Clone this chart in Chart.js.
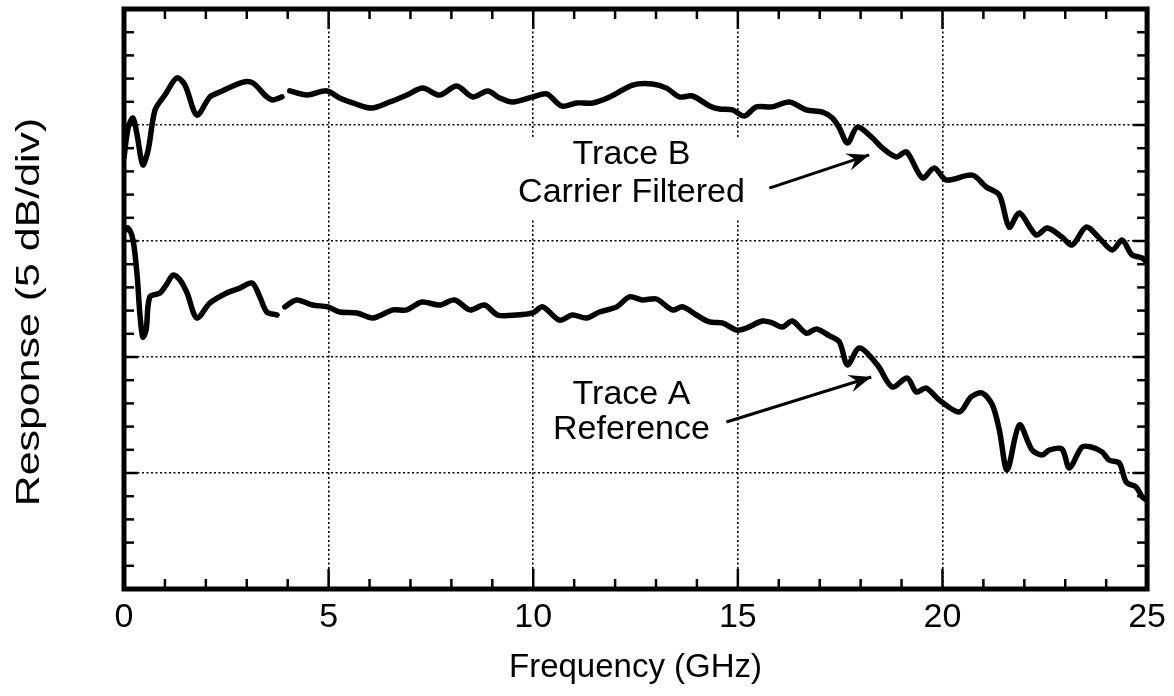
<!DOCTYPE html>
<html><head><meta charset="utf-8">
<script src="https://cdn.jsdelivr.net/npm/chart.js@4/dist/chart.umd.min.js"></script>
<style>html,body{margin:0;padding:0;background:#fff}#wrap{width:1174px;height:696px}</style>
</head><body><div id="wrap"><canvas id="c" width="1174" height="696"></canvas></div>
<script>
// Trace B (Carrier Filtered) — frequency in GHz, response in dB (5 dB/div)
const freqB = [0.0,0.10,0.22,0.32,0.46,0.59,0.76,1.00,1.29,1.49,1.78,2.10,2.34,2.91,3.15,3.49,3.64,3.86,3.95,
  4.05,4.47,4.96,5.27,5.59,6.05,6.49,6.91,7.30,7.71,8.13,8.52,8.89,9.18,9.50,9.99,10.33,10.69,11.06,11.45,11.87,
  12.43,12.91,13.26,13.57,13.89,14.31,14.55,14.87,15.16,15.45,15.84,16.26,16.67,17.07,17.31,17.48,17.68,17.92,
  18.29,18.53,18.87,19.12,19.51,19.80,20.09,20.73,21.07,21.39,21.63,21.88,22.29,22.56,22.92,23.17,23.51,23.83,
  24.15,24.39,24.63,24.88,24.98];
const respB = [-6.42,-5.13,-4.70,-5.43,-6.72,-6.08,-4.35,-3.71,-2.97,-3.28,-4.57,-3.79,-3.58,-3.15,-3.19,-3.79,-3.92,-3.79,null,
  -3.53,-3.71,-3.53,-3.84,-4.05,-4.27,-4.01,-3.71,-3.41,-3.71,-3.32,-3.79,-3.53,-3.84,-4.01,-3.79,-3.66,-4.18,-4.05,-4.05,-3.79,
  -3.28,-3.23,-3.41,-3.79,-3.75,-4.18,-4.31,-4.35,-4.61,-4.22,-4.22,-4.01,-4.35,-4.44,-4.70,-5.13,-5.78,-5.09,
  -5.56,-5.99,-6.38,-6.16,-7.28,-6.85,-7.37,-7.16,-7.67,-8.02,-9.40,-8.79,-9.74,-9.44,-9.83,-10.17,-9.40,-9.87,
  -10.39,-9.96,-10.60,-10.73,-10.90];

// Trace A (Reference)
const freqA = [0.0,0.10,0.22,0.32,0.39,0.46,0.54,0.63,0.88,1.03,1.20,1.37,1.54,1.78,2.10,2.51,2.83,3.13,3.32,3.49,3.74,3.84,
  3.93,4.22,4.61,4.98,5.27,5.69,6.08,6.57,6.91,7.28,7.71,8.08,8.45,8.81,9.13,9.59,9.99,10.23,10.64,10.96,11.30,11.62,
  12.04,12.35,12.67,13.01,13.40,13.65,13.99,14.31,14.62,14.97,15.21,15.60,15.84,16.09,16.33,16.67,16.92,17.24,17.48,
  17.68,17.97,18.41,18.77,19.14,19.36,19.60,19.92,20.41,20.70,20.97,21.22,21.39,21.58,21.88,22.19,22.44,22.61,22.92,
  23.10,23.41,23.63,23.90,24.07,24.32,24.49,24.73,24.88,24.98];
const respA = [-9.61,-9.44,-9.96,-11.47,-13.19,-14.14,-13.84,-12.41,-12.24,-11.90,-11.47,-11.68,-12.24,-13.32,-12.67,-12.24,-12.03,-11.81,-12.41,-13.06,-13.19,null,
  -12.84,-12.54,-12.76,-12.84,-13.06,-13.10,-13.32,-12.97,-12.97,-12.63,-12.76,-12.54,-12.97,-12.76,-13.19,-13.19,-13.10,-12.84,-13.41,-13.19,-13.32,-13.06,
  -12.84,-12.41,-12.54,-12.50,-12.97,-12.84,-13.19,-13.49,-13.53,-13.84,-13.75,-13.45,-13.53,-13.71,-13.45,-13.97,-13.79,-14.09,-14.35,
  -15.34,-14.61,-15.34,-16.29,-15.91,-16.51,-16.34,-16.85,-17.37,-16.72,-16.55,-17.07,-18.15,-19.87,-17.93,-19.01,-19.22,-19.01,-18.97,
  -19.78,-18.88,-18.88,-19.09,-19.44,-19.57,-20.39,-20.60,-21.03,-21.16];

const xTickValues = [0, 5, 10, 15, 20, 25];
const xTitle = 'Frequency (GHz)';
const yTitle = 'Response (5 dB/div)';
const labelB = ['Trace B', 'Carrier Filtered'];
const labelA = ['Trace A', 'Reference'];
// annotation anchors in data units [freq, dB]
const labelBPos = [[12.40, -6.29], [12.40, -7.93]];
const labelAPos = [[12.40, -16.64], [12.40, -18.15]];
const arrowB = [[15.77, -7.72], [18.21, -6.29]];
const arrowA = [[14.72, -17.80], [18.26, -15.86]];

const FONT = '"Liberation Sans", Arial, Helvetica, sans-serif';

function pts(xs, ys) { return xs.map((x, i) => ({ x: x, y: ys[i] })); }

function line(ctx, x1, y1, x2, y2) { ctx.beginPath(); ctx.moveTo(x1, y1); ctx.lineTo(x2, y2); ctx.stroke(); }

function arrow(ctx, x, y, from, to) {
  const x1 = x.getPixelForValue(from[0]), y1 = y.getPixelForValue(from[1]);
  const x2 = x.getPixelForValue(to[0]), y2 = y.getPixelForValue(to[1]);
  ctx.lineWidth = 3;
  line(ctx, x1, y1, x2, y2);
  const ang = Math.atan2(y2 - y1, x2 - x1);
  const L = 24, W = 0.38;
  ctx.beginPath();
  ctx.moveTo(x2, y2);
  ctx.lineTo(x2 - L * Math.cos(ang - W), y2 - L * Math.sin(ang - W));
  ctx.lineTo(x2 - L * 0.6 * Math.cos(ang), y2 - L * 0.6 * Math.sin(ang));
  ctx.lineTo(x2 - L * Math.cos(ang + W), y2 - L * Math.sin(ang + W));
  ctx.closePath();
  ctx.fill();
}

const framePlugin = {
  id: 'frame',
  beforeDatasetsDraw(chart) {
    const { ctx, scales: { x, y } } = chart;
    ctx.save();
    ctx.font = '34px ' + FONT;
    const w = Math.max(...labelB.map(t => ctx.measureText(t).width));
    const cx = x.getPixelForValue(labelBPos[0][0]);
    const y1 = y.getPixelForValue(labelBPos[0][1]);
    const y2 = y.getPixelForValue(labelBPos[1][1]);
    ctx.fillStyle = '#fff';
    ctx.fillRect(cx - w / 2 - 10, y1 - 16, w + 20, (y2 - y1) + 42);
    ctx.restore();
  },
  afterDatasetsDraw(chart) {
    const { ctx, chartArea: a, scales: { x, y } } = chart;
    ctx.save();
    ctx.strokeStyle = '#000';
    ctx.fillStyle = '#000';
    ctx.lineWidth = 2.5;
    for (let v = 1; v < 25; v++) {
      const px = x.getPixelForValue(v);
      const len = v % 5 === 0 ? 20 : 10;
      line(ctx, px, a.bottom, px, a.bottom - len);
      line(ctx, px, a.top, px, a.top + len);
    }
    for (let v = -24; v < 0; v++) {
      const py = y.getPixelForValue(v);
      const len = v % 5 === 0 ? 14 : 10;
      line(ctx, a.left, py, a.left + len, py);
      line(ctx, a.right, py, a.right - len, py);
    }
    ctx.lineWidth = 5;
    ctx.strokeRect(a.left, a.top, a.right - a.left, a.bottom - a.top);

    ctx.font = '34px ' + FONT;
    ctx.textAlign = 'center';
    ctx.textBaseline = 'middle';
    labelB.forEach((t, i) => ctx.fillText(t, x.getPixelForValue(labelBPos[i][0]), y.getPixelForValue(labelBPos[i][1])));
    labelA.forEach((t, i) => ctx.fillText(t, x.getPixelForValue(labelAPos[i][0]), y.getPixelForValue(labelAPos[i][1])));
    arrow(ctx, x, y, arrowB[0], arrowB[1]);
    arrow(ctx, x, y, arrowA[0], arrowA[1]);

    // y-axis title (stretched along its length as in the original)
    ctx.save();
    ctx.translate(30, (a.top + a.bottom) / 2 + 13);
    ctx.rotate(-Math.PI / 2);
    ctx.scale(1.3, 1);
    ctx.font = '33px ' + FONT;
    ctx.fillText(yTitle, 0, 0);
    ctx.restore();
    ctx.restore();
  }
};

const lineStyle = { borderColor: '#000', borderWidth: 5.5, pointRadius: 0, tension: 0.3, spanGaps: false, fill: false, borderJoinStyle: 'round', borderCapStyle: 'round' };

new Chart(document.getElementById('c'), {
  type: 'line',
  data: {
    datasets: [
      Object.assign({ label: 'Trace B Carrier Filtered', data: pts(freqB, respB) }, lineStyle),
      Object.assign({ label: 'Trace A Reference', data: pts(freqA, respA) }, lineStyle)
    ]
  },
  options: {
    responsive: false,
    animation: false,
    devicePixelRatio: 1,
    layout: { padding: { top: 9, right: 26, left: 0, bottom: 0 } },
    plugins: { legend: { display: false }, tooltip: { enabled: false } },
    scales: {
      x: {
        type: 'linear', min: 0, max: 25,
        afterBuildTicks: s => { s.ticks = xTickValues.map(v => ({ value: v })); },
        afterFit: s => { s.height = 107; },
        ticks: { color: '#000', font: { family: FONT, size: 34 }, padding: 8, maxRotation: 0 },
        grid: { color: '#000', lineWidth: 1.6, drawTicks: false },
        border: { display: false, dash: [2, 2.5] },
        title: { display: true, text: xTitle, color: '#000', font: { family: FONT, size: 33 }, padding: { top: 0, bottom: 8 } }
      },
      y: {
        type: 'linear', min: -25, max: 0,
        ticks: { display: false, stepSize: 5 },
        afterFit: s => { s.width = 124; },
        grid: { color: '#000', lineWidth: 1.6, drawTicks: false },
        border: { display: false, dash: [2, 2.5] },
        title: { display: false, text: yTitle }
      }
    }
  },
  plugins: [framePlugin]
});
</script>
</body></html>
